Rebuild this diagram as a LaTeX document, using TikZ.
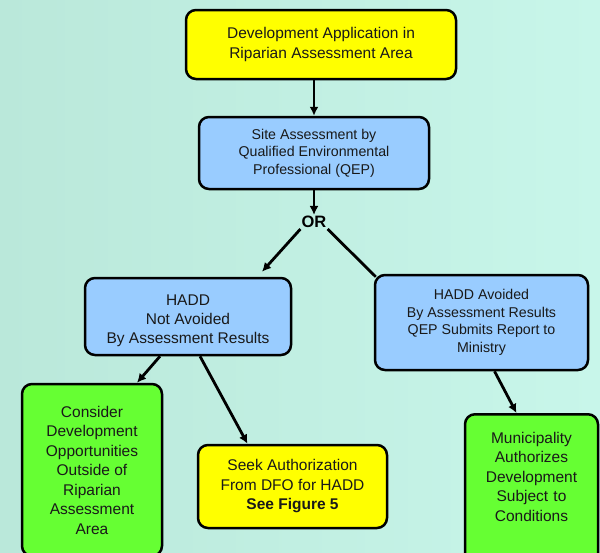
\documentclass[tikz,border=0pt]{standalone}
\usepackage{fontspec}
\setmainfont{Liberation Sans}
\usetikzlibrary{arrows.meta,positioning}
\definecolor{bgLeft}{RGB}{186,232,218}
\definecolor{bgRight}{RGB}{200,246,234}
\definecolor{boxYellow}{RGB}{255,255,0}
\definecolor{boxBlue}{RGB}{153,204,255}
\definecolor{boxGreen}{RGB}{102,255,51}
\tikzstyle{fBox}=[draw=black,line width=2.5pt,rounded corners=10pt,align=center,inner sep=0pt,text=black!90]
\tikzstyle{yBox}=[fBox,fill=boxYellow,font=\fontsize{15.5}{19.5}\selectfont]
\tikzstyle{bBox}=[fBox,fill=boxBlue,font=\fontsize{14.2}{17.5}\selectfont]
\tikzstyle{gBox}=[fBox,fill=boxGreen,font=\fontsize{15.5}{19.5}\selectfont]
\tikzstyle{orS}=[inner sep=1pt,font=\bfseries\fontsize{16.5}{16.5}\selectfont]
\tikzstyle{fLine}=[line width=2.8pt]
\tikzstyle{fArr}=[fLine,-{Latex[length=9pt,width=9pt]}]

\begin{document}
\begin{tikzpicture}[x=1pt,y=-1pt]
                \clip (0,0) rectangle (600,552);
                \shade[left color=bgLeft,right color=bgRight] (0,0) rectangle (600,552);
                \draw (321,44.5) node[yBox,minimum width=270pt,minimum height=69pt] (dev) {Development Application in\\Riparian Assessment Area};
                \draw (314,153) node[bBox,minimum width=230pt,minimum height=72pt] (site) {Site Assessment by\\Qualified Environmental\\Professional (QEP)};
                \draw (314,222) node[orS] (or) {OR};
                \draw (188,316.5) node[bBox,font=\fontsize{15.5}{19}\selectfont,minimum width=206pt,minimum height=77pt,text height=57pt,text depth=3pt] (nav) {HADD\\Not Avoided\\By Assessment Results};
                \draw (481.5,322.5) node[bBox,minimum width=213pt,minimum height=95pt] (av) {HADD Avoided\\By Assessment Results\\QEP Submits Report to\\Ministry};
                \draw (92,470) node[gBox,minimum width=140pt,minimum height=172pt] (con) {Consider\\Development\\Opportunities\\Outside of\\Riparian\\Assessment\\Area};
                \draw (292.5,486.5) node[yBox,minimum width=189pt,minimum height=83pt] (seek) {Seek Authorization\\From DFO for HADD\\\textbf{See Figure 5}};
                \draw (531.5,413) node[gBox,anchor=north,text width=125pt,inner xsep=4pt,inner ysep=18pt,text height=11pt,text depth=110pt] (mun) {Municipality\\Authorizes\\Development\\Subject to\\Conditions};
                \path
                    (site.north |- dev.south) edge[fArr] (site.north)
                    (site.south) edge[fArr] (or.north)
                    (or.south west) edge[fArr] ([xshift=74pt,yshift=5pt]nav.north)
                    (or.south east) edge[fLine] ([xshift=2pt,yshift=-3pt]av.north west)
                    ([xshift=-28pt]nav.south) edge[fArr] ([xshift=45pt]con.north)
                    ([xshift=12pt]nav.south) edge[fArr] ([xshift=-45pt]seek.north)
                    ([xshift=13pt]av.south) edge[fArr] ([xshift=-15pt]mun.north)
                ;
        \end{tikzpicture}
\end{document}
